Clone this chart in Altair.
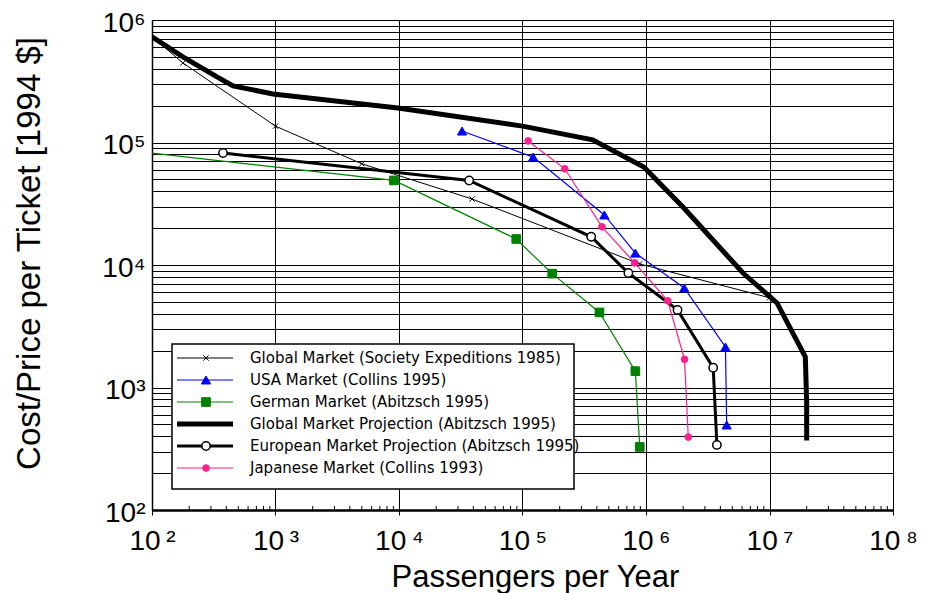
import altair as alt
import pandas as pd

# ---------------- data ----------------
soc_x = [100, 178, 1000, 5000, 39000, 890000, 10000000]
soc_y = [730000, 446000, 136000, 67000, 34600, 10200, 5400]

usa_x = [32400, 122000, 460000, 820000, 2040000, 4400000, 4500000]
usa_y = [124000, 76000, 25600, 12500, 6500, 2140, 494]

ger_x = [100, 9100, 89000, 174000, 420000, 820000, 890000]
ger_y = [82000, 49000, 16300, 8500, 4100, 1360, 327]

gp_x = [100, 178, 336, 453, 955, 9800, 100000, 370000, 960000, 2000000, 6100000, 11500000, 19500000, 20000000, 20000000]
gp_y = [730000, 500000, 343000, 290000, 249000, 191000, 136000, 105000, 63000, 29600, 8600, 4900, 1780, 760, 370]

eur_x = [376, 37000, 360000, 720000, 1800000, 3500000, 3750000]
eur_y = [82000, 49000, 17000, 8600, 4300, 1450, 340]

jap_x = [111000, 220000, 440000, 810000, 1500000, 2050000, 2200000]
jap_y = [103000, 61000, 20500, 10400, 5100, 1700, 394]

names = [
    "Global Market (Society Expeditions 1985)",
    "USA Market (Collins 1995)",
    "German Market (Abitzsch 1995)",
    "Global Market Projection (Abitzsch 1995)",
    "European Market Projection (Abitzsch 1995)",
    "Japanese Market (Collins 1993)",
]
series_x = [soc_x, usa_x, ger_x, gp_x, eur_x, jap_x]
series_y = [soc_y, usa_y, ger_y, gp_y, eur_y, jap_y]
# which points carry a marker (German starts at the axis edge without one)
marker_from = [1, 0, 1, None, 0, 0]

x_decades = [1e2, 1e3, 1e4, 1e5, 1e6, 1e7, 1e8]
y_grid = [k * 10 ** n for n in range(2, 6) for k in range(1, 10)] + [1e6]
x_minor = [k * 10 ** n for n in range(2, 8) for k in range(2, 10)]

# ---------------- styles ----------------
XPATH = "M-1,-1L1,1M-1,1L1,-1"
styles = [
    dict(color="#000000", width=1, shape=XPATH, size=28, fill="transparent", stroke="#000000", sw=1),
    dict(color="#0000ff", width=1.2, shape="triangle-up", size=85, fill="#0000ff", stroke="#0000ff", sw=1),
    dict(color="#008000", width=1.2, shape="square", size=75, fill="#008000", stroke="#008000", sw=1),
    dict(color="#000000", width=5, shape=None),
    dict(color="#000000", width=3, shape="circle", size=70, fill="#ffffff", stroke="#000000", sw=1.5),
    dict(color="#ff1f8f", width=1.2, shape="circle", size=45, fill="#ff1f8f", stroke="#ff1f8f", sw=1),
]

rows = []
for i, (nm, xs, ys) in enumerate(zip(names, series_x, series_y)):
    for j, (xv, yv) in enumerate(zip(xs, ys)):
        mk = marker_from[i] is not None and j >= marker_from[i]
        rows.append(dict(series=nm, x=xv, y=yv, idx=j, marker=mk))
df = pd.DataFrame(rows)

FONT = "Liberation Sans"
sup = "['⁰','¹','²','³','⁴','⁵','⁶','⁷','⁸']"
lg = "(log(datum.value)/LN10)"

X = alt.X(
    "x:Q",
    scale=alt.Scale(type="log", domain=[1e2, 1e8]),
    axis=alt.Axis(
        values=x_decades, grid=True, gridColor="black", gridWidth=1, gridOpacity=1,
        domainColor="black", domainWidth=2.5, tickColor="black", tickSize=5, tickWidth=1,
        labelExpr="'10\u2009' + " + sup + "[round(" + lg + ")]",
        labelFont=FONT, labelFontSize=28, labelColor="black", labelPadding=12,
        labelOverlap=False, labelFlush=False,
        title="Passengers per Year", titleFont=FONT, titleFontSize=31, titleFontWeight="normal",
        titleColor="black", titleX=383, titleY=76, titleBaseline="alphabetic",
    ),
)
Y = alt.Y(
    "y:Q",
    scale=alt.Scale(type="log", domain=[1e2, 1e6]),
    axis=alt.Axis(
        values=y_grid, grid=True, gridColor="black", gridWidth=1, gridOpacity=1,
        domainColor="black", domainWidth=1.5, ticks=False,
        labelExpr="abs(" + lg + " - round(" + lg + ")) < 0.001 ? '10' + " + sup + "[round(" + lg + ")] : ''",
        labelFont=FONT, labelFontSize=28, labelColor="black", labelPadding=7, labelOffset=3,
        labelOverlap=False, labelFlush=False,
        title="Cost/Price per Ticket [1994 $]", titleFont=FONT, titleFontSize=33,
        titleFontWeight="normal", titleColor="black", titleX=-106, titleY=233,
        titleBaseline="bottom",
    ),
)

base = alt.Chart(df)
data_layers = []

minor_df = pd.DataFrame({"x": x_minor})
data_layers.append(
    alt.Chart(minor_df).mark_rule(color="black", strokeWidth=1).encode(
        x=X, y=alt.value(486), y2=alt.value(490)
    )
)

for nm, st in zip(names, styles):
    data_layers.append(
        base.transform_filter(alt.datum.series == nm)
        .mark_line(color=st["color"], strokeWidth=st["width"], clip=True)
        .encode(x=X, y=Y, order="idx:Q")
    )
for nm, st in zip(names, styles):
    if st["shape"] is None:
        continue
    data_layers.append(
        base.transform_filter((alt.datum.series == nm) & alt.datum.marker)
        .mark_point(shape=st["shape"], size=st["size"], filled=True, fill=st["fill"],
                    stroke=st["stroke"], strokeWidth=st["sw"], opacity=1, clip=True)
        .encode(x=X, y=Y)
    )

data_group = alt.layer(*data_layers)

# ---------------- legend ----------------
leg_df = pd.DataFrame({"label": names, "row": list(range(len(names)))})
LY = alt.Y("row:O", scale=alt.Scale(type="point", range=[338, 448], padding=0), axis=None)

leg_layers = [
    alt.Chart(pd.DataFrame({"b": [0]})).mark_rect(fill="white", stroke="black", strokeWidth=1.5).encode(
        x=alt.value(20), x2=alt.value(422), y=alt.value(324), y2=alt.value(469)
    )
]
for i, st in enumerate(styles):
    sub = alt.Chart(leg_df).transform_filter(alt.datum.row == i)
    leg_layers.append(
        sub.mark_rule(color=st["color"], strokeWidth=st["width"]).encode(
            x=alt.value(25), x2=alt.value(81), y=LY
        )
    )
    if st["shape"] is not None:
        leg_layers.append(
            sub.mark_point(shape=st["shape"], size=st["size"], filled=True, fill=st["fill"],
                           stroke=st["stroke"], strokeWidth=st["sw"], opacity=1).encode(
                x=alt.value(54), y=LY
            )
        )
leg_layers.append(
    alt.Chart(leg_df).mark_text(align="left", baseline="middle", font="DejaVu Sans",
                                fontSize=15, color="black").encode(
        x=alt.value(98), y=LY, text="label:N"
    )
)
legend_group = alt.layer(*leg_layers)

chart = (
    alt.layer(data_group, legend_group)
    .resolve_scale(y="independent")
    .properties(
        width=741, height=490,
        autosize=alt.AutoSizeParams(type="none"),
        padding={"left": 144, "top": 12, "right": 32, "bottom": 83},
        background="white",
    )
    .configure_view(stroke="black", strokeWidth=1)
)

chart.save("out.html", embed_options={"renderer": "svg", "actions": False})
